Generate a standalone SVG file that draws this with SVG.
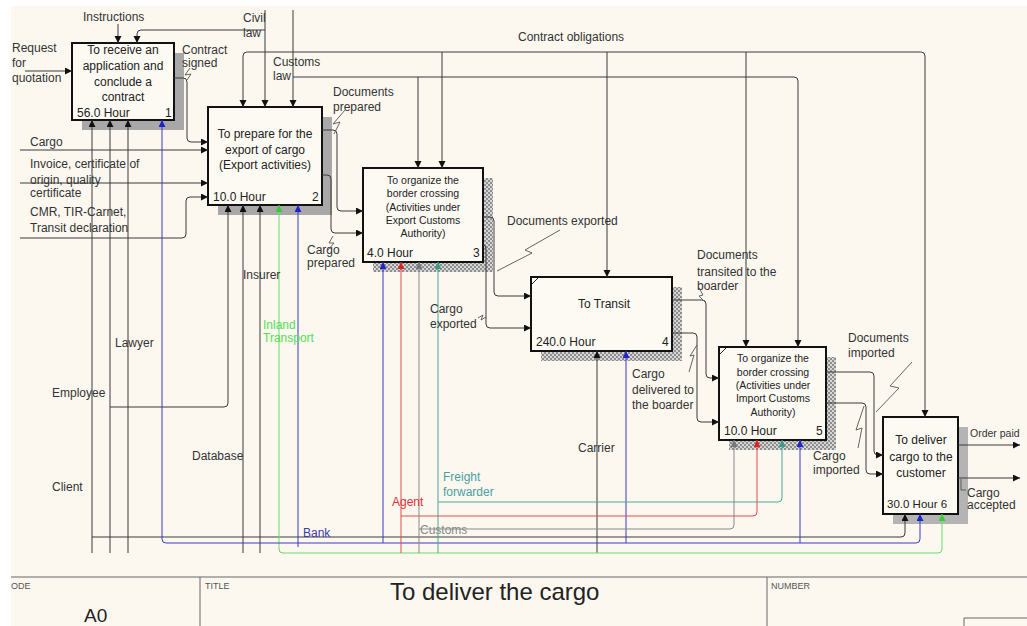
<svg xmlns="http://www.w3.org/2000/svg" width="1027" height="626" viewBox="0 0 1027 626">
<defs>
<style>
text{font-family:"Liberation Sans",Arial,sans-serif;font-size:12px;fill:#333}
.bt{font-size:12px;fill:#222}
.bs{font-size:10.5px;fill:#222}
.c{text-anchor:middle}
.box{fill:#fdfaf4;stroke:#111;stroke-width:2}
.ln{fill:none;stroke:#3a3a3a;stroke-width:1}
.sq{fill:none;stroke:#555;stroke-width:0.9}
.ab{marker-end:url(#aK)}
.blue{stroke:#3b3bc4}.red{stroke:#e24a4a}.grn{stroke:#66dd66}.teal{stroke:#4aa898}.gry{stroke:#8a8a8a}
.ttl{font-size:9px;fill:#555}
</style>
<pattern id="dots" width="4" height="4" patternUnits="userSpaceOnUse"><rect width="4" height="4" fill="#d6d6d6"/><rect width="2" height="2" fill="#8e8e8e"/><rect x="2" y="2" width="2" height="2" fill="#8e8e8e"/></pattern>
<marker id="aK" markerWidth="8" markerHeight="8" refX="7" refY="3.5" orient="auto" markerUnits="userSpaceOnUse"><path d="M0,0 L7,3.5 L0,7 z" fill="#111"/></marker>
<marker id="aB" markerWidth="8" markerHeight="8" refX="7" refY="3.5" orient="auto" markerUnits="userSpaceOnUse"><path d="M0,0 L7,3.5 L0,7 z" fill="#2222cc"/></marker>
<marker id="aR" markerWidth="8" markerHeight="8" refX="7" refY="3.5" orient="auto" markerUnits="userSpaceOnUse"><path d="M0,0 L7,3.5 L0,7 z" fill="#e02020"/></marker>
<marker id="aG" markerWidth="8" markerHeight="8" refX="7" refY="3.5" orient="auto" markerUnits="userSpaceOnUse"><path d="M0,0 L7,3.5 L0,7 z" fill="#33cc33"/></marker>
<marker id="aT" markerWidth="8" markerHeight="8" refX="7" refY="3.5" orient="auto" markerUnits="userSpaceOnUse"><path d="M0,0 L7,3.5 L0,7 z" fill="#3a9a88"/></marker>
<marker id="aY" markerWidth="8" markerHeight="8" refX="7" refY="3.5" orient="auto" markerUnits="userSpaceOnUse"><path d="M0,0 L7,3.5 L0,7 z" fill="#777"/></marker>
</defs>
<rect width="1027" height="626" fill="#ffffff"/>
<rect x="11" y="6" width="1016" height="620" fill="#fcf8f0"/>

<g id="box1">
<rect x="82" y="53" width="102" height="77" fill="#a8a8a8"/>
<rect class="box" x="72" y="43" width="102" height="77"/>
<text class="bt c" x="123" y="54">To receive an</text>
<text class="bt c" x="123" y="70">application and</text>
<text class="bt c" x="123" y="86">conclude a</text>
<text class="bt c" x="123" y="101">contract</text>
<text class="bt" x="77" y="117">56.0 Hour</text>
<text class="bt" x="165" y="117">1</text>
</g>
<g id="box2">
<rect x="218" y="117" width="114" height="98" fill="#a8a8a8"/>
<rect class="box" x="208" y="107" width="114" height="98"/>
<text class="bt c" x="265" y="138">To prepare for the</text>
<text class="bt c" x="265" y="154">export of cargo</text>
<text class="bt c" x="265" y="169">(Export activities)</text>
<text class="bt" x="213" y="201">10.0 Hour</text>
<text class="bt" x="312" y="201">2</text>
</g>
<g id="box3">
<rect x="373" y="178" width="120" height="94" fill="url(#dots)"/>
<rect class="box" x="363" y="168" width="120" height="94"/>
<text class="bs c" x="423" y="184">To organize the</text>
<text class="bs c" x="423" y="197">border crossing</text>
<text class="bs c" x="423" y="211">(Activities under</text>
<text class="bs c" x="423" y="224">Export Customs</text>
<text class="bs c" x="423" y="237">Authority)</text>
<text class="bt" x="367" y="257">4.0 Hour</text>
<text class="bt" x="473" y="257">3</text>
</g>
<g id="box4">
<rect x="541" y="287" width="141" height="74" fill="url(#dots)"/>
<rect class="box" x="531" y="277" width="141" height="74"/>
<path d="M532 284 L538 278" stroke="#222" stroke-width="1"/>
<text class="bt c" x="604" y="308">To Transit</text>
<text class="bt" x="536" y="346">240.0 Hour</text>
<text class="bt" x="662" y="346">4</text>
</g>
<g id="box5">
<rect x="729" y="357" width="107" height="93" fill="url(#dots)"/>
<rect class="box" x="719" y="347" width="107" height="93"/>
<path d="M720 354 L726 348" stroke="#222" stroke-width="1"/>
<text class="bs c" x="773" y="362">To organize the</text>
<text class="bs c" x="773" y="376">border crossing</text>
<text class="bs c" x="773" y="389">(Activities under</text>
<text class="bs c" x="773" y="402">Import Customs</text>
<text class="bs c" x="773" y="416">Authority)</text>
<text class="bt" x="724" y="435">10.0 Hour</text>
<text class="bt" x="816" y="435">5</text>
</g>
<g id="box6">
<rect x="893" y="427" width="75" height="97" fill="#b4b4b4"/>
<rect class="box" x="883" y="417" width="75" height="97"/>
<text class="bt c" x="921" y="444">To deliver</text>
<text class="bt c" x="921" y="461">cargo to the</text>
<text class="bt c" x="921" y="477">customer</text>
<text class="bt" x="887" y="508" style="font-size:11.5px">30.0 Hour 6</text>
</g>

<g id="connectors">
<path class="ln ab" d="M25 71 H72"/>
<path class="ln ab" d="M118 24 V43"/>
<path class="ln ab" d="M265 10 V107"/>
<path class="ln ab" d="M265 30 H141 Q137 30 137 34 V43"/>
<path class="ln" d="M247 52 H921"/>
<path class="ln ab" d="M247 52 Q243 52 243 56 V107"/>
<path class="ln ab" d="M921 52 Q925 52 925 56 V417"/>
<path class="ln ab" d="M442 52 V168"/>
<path class="ln ab" d="M607 52 V277"/>
<path class="ln ab" d="M746 52 V347"/>
<path class="ln ab" d="M293 10 V107"/>
<path class="ln ab" d="M293 77 H794 Q798 77 798 81 V347"/>
<path class="ln ab" d="M418 77 V168"/>
<path class="ln ab" d="M174 78 H183 Q187 78 187 82 V138 Q187 142 191 142 H208"/>
<path class="ln ab" d="M20 150 H208"/>
<path class="ln ab" d="M20 183 H208"/>
<path class="ln ab" d="M20 238 H182 Q186 238 186 234 V201 Q186 197 190 197 H208"/>
<path class="ln ab" d="M322 130 H333 Q337 130 337 134 V207 Q337 211 341 211 H363"/>
<path class="ln ab" d="M322 175 H327 Q331 175 331 179 V229 Q331 233 335 233 H363"/>
<path class="ln ab" d="M483 217 H490 Q494 217 494 221 V292 Q494 296 498 296 H531"/>
<path class="ln ab" d="M483 245 Q486 245 486 249 V324 Q486 328 490 328 H531"/>
<path class="ln ab" d="M672 300 H702 Q706 300 706 304 V374 Q706 378 710 378 H719"/>
<path class="ln ab" d="M672 333 H693 Q697 333 697 337 V418 Q697 422 701 422 H719"/>
<path class="ln ab" d="M826 372 H870 Q874 372 874 376 V451 Q874 455 878 455 H883"/>
<path class="ln ab" d="M826 403 H862 Q866 403 866 407 V470 Q866 474 870 474 H883"/>
<path class="ln ab" d="M958 445 H1020"/>
<path class="ln ab" d="M958 478 H1020"/>
<path class="ln ab" d="M92 553 V120"/>
<path class="ln ab" d="M92 537 H901 Q905 537 905 533 V514"/>
<path class="ln ab" d="M110 553 V120"/>
<path class="ln ab" d="M110 407 H224 Q228 407 228 403 V205"/>
<path class="ln ab" d="M128 553 V120"/>
<path class="ln ab" d="M243 553 V205"/>
<path class="ln ab" d="M260 553 V205"/>
<path class="ln ab" d="M597 553 V351"/>
<path class="ln grn" style="marker-end:url(#aG)" d="M283 553 Q279 553 279 549 V205"/>
<path class="ln grn" style="marker-end:url(#aG)" d="M283 553 H938 Q942 553 942 549 V514"/>
<path class="ln blue" style="marker-end:url(#aB)" d="M166 543 Q162 543 162 539 V120"/>
<path class="ln blue" style="marker-end:url(#aB)" d="M166 543 H916 Q920 543 920 539 V514"/>
<path class="ln blue" style="marker-end:url(#aB)" d="M298 547 V205"/>
<path class="ln blue" style="marker-end:url(#aB)" d="M383 543 V262"/>
<path class="ln blue" style="marker-end:url(#aB)" d="M626 543 V351"/>
<path class="ln blue" style="marker-end:url(#aB)" d="M800 543 V440"/>
<path class="ln red" style="marker-end:url(#aR)" d="M401 553 V262"/>
<path class="ln red" style="marker-end:url(#aR)" d="M401 516 H753 Q757 516 757 512 V440"/>
<path class="ln gry" style="marker-end:url(#aY)" d="M419 553 V262"/>
<path class="ln gry" style="marker-end:url(#aY)" d="M419 529 H730 Q734 529 734 525 V440"/>
<path class="ln teal" style="marker-end:url(#aT)" d="M438 553 V262"/>
<path class="ln teal" style="marker-end:url(#aT)" d="M438 502 H778 Q782 502 782 498 V440"/>
<path class="sq" d="M190 68 L185 75 L191 74 L187 80"/>
<path class="sq" d="M345 110 L333 124 L340 122 L334 134"/>
<path class="sq" d="M328 250 L334 243 L329 243 L333 236"/>
<path class="sq" d="M560 230 L525 250 L532 253 L497 271"/>
<path class="sq" d="M478 318 L483 315 L481 320 L486 317"/>
<path class="sq" d="M699 288 L703 295 L699 296 L705 302"/>
<path class="sq" d="M689 372 L694 355 L690 356 L697 345"/>
<path class="sq" d="M912 362 L890 386 L899 388 L876 412"/>
<path class="sq" d="M858 448 L862 428 L856 430 L864 406"/>
<path class="sq" d="M966 490 L961 490 L961 479"/>
</g>

<g id="labels">
<text x="12" y="52">Request</text>
<text x="12" y="67">for</text>
<text x="12" y="82">quotation</text>
<text x="83" y="21">Instructions</text>
<text x="243" y="22">Civil</text>
<text x="243" y="37">law</text>
<text x="273" y="66">Customs</text>
<text x="273" y="80">law</text>
<text x="182" y="54">Contract</text>
<text x="182" y="67">signed</text>
<text x="518" y="41">Contract obligations</text>
<text x="333" y="96">Documents</text>
<text x="333" y="111">prepared</text>
<text x="30" y="146">Cargo</text>
<text x="30" y="168">Invoice, certificate of</text>
<text x="30" y="184">origin, quality</text>
<text x="30" y="197">certificate</text>
<text x="30" y="216">CMR, TIR-Carnet,</text>
<text x="30" y="232">Transit declaration</text>
<text x="307" y="254">Cargo</text>
<text x="307" y="267">prepared</text>
<text x="507" y="225">Documents exported</text>
<text x="430" y="313">Cargo</text>
<text x="430" y="328">exported</text>
<text x="697" y="259">Documents</text>
<text x="697" y="276">transited to the</text>
<text x="697" y="290">boarder</text>
<text x="632" y="378">Cargo</text>
<text x="632" y="394">delivered to</text>
<text x="632" y="409">the boarder</text>
<text x="848" y="342">Documents</text>
<text x="848" y="357">imported</text>
<text x="813" y="460">Cargo</text>
<text x="813" y="474">imported</text>
<text x="970" y="437" style="font-size:10.5px">Order paid</text>
<text x="967" y="497">Cargo</text>
<text x="967" y="509">accepted</text>
<text x="52" y="397">Employee</text>
<text x="115" y="347">Lawyer</text>
<text x="243" y="279">Insurer</text>
<text x="263" y="329" style="fill:#55dd55">Inland</text>
<text x="263" y="342" style="fill:#55dd55">Transport</text>
<text x="192" y="460">Database</text>
<text x="52" y="491">Client</text>
<text x="578" y="452">Carrier</text>
<text x="392" y="506" style="fill:#e03030">Agent</text>
<text x="443" y="481" style="fill:#4aa0a0">Freight</text>
<text x="443" y="496" style="fill:#4aa0a0">forwarder</text>
<text x="420" y="534" style="fill:#8a8a8a">Customs</text>
<text x="303" y="537" style="fill:#3b3bb0">Bank</text>
</g>

<g id="titleblock">
<path d="M11 577 H1027 M200 577 V626 M767 577 V626 M964 626 V618 H1027" fill="none" stroke="#666" stroke-width="1"/>
<text class="ttl" x="11" y="589">ODE</text>
<text class="ttl" x="205" y="589">TITLE</text>
<text class="ttl" x="771" y="589">NUMBER</text>
<text x="84" y="622" style="font-size:19px;fill:#222">A0</text>
<text x="390" y="600" style="font-size:24px;fill:#222">To deliver the cargo</text>
</g>
</svg>
